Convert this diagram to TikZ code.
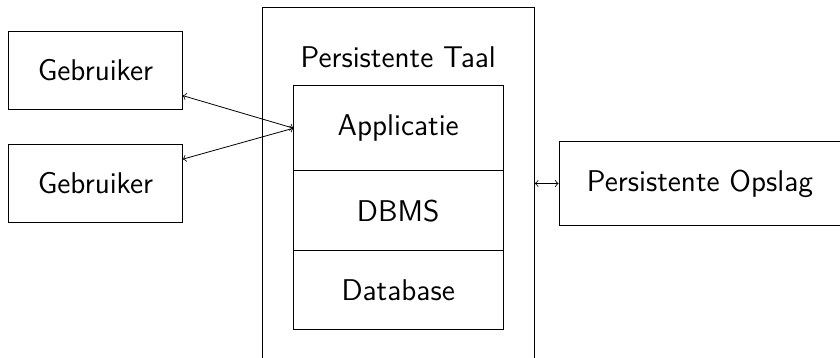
\documentclass[tikz,border=0pt]{standalone}
\usepackage{amsmath,amsfonts,amssymb}
\usepackage{tikz}
\usetikzlibrary{positioning,arrows,shapes}

\begin{document}
\begin{tikzpicture}[
    x=1pt, y=1pt,
    block/.style={rectangle, draw, inner sep=0pt, align=center, font=\sffamily\fontsize{15}{18}\selectfont},
    user/.style={block, minimum width=86.8pt, minimum height=39pt},
    layer/.style={block, outer sep=0pt, minimum width=104.7pt},
    arrow/.style={<->}
]
\useasboundingbox (0,0) rectangle (420,-179);

\node[block, minimum width=136.2pt, minimum height=176pt] (taal) at (199.1,-91.65) {};
\node[font=\sffamily\fontsize{15}{18}\selectfont] (taallabel) at (199.1,-28.5) {Persistente Taal};

\node[user] (g1) at (47.75,-35) {Gebruiker};
\node[user] (g2) at (47.75,-91.75) {Gebruiker};

\node[layer, minimum height=42.5pt] (app) at (199.1,-64.1) {Applicatie};
\node[layer, minimum height=40pt, below=0pt of app] (dbms) {DBMS};
\node[layer, minimum height=39.3pt, below=0pt of dbms] (db) {Database};

\node[block, minimum width=141pt, minimum height=42pt] (opslag) at (350,-91.85) {Persistente Opslag};

\draw[arrow] (g1) -- (app.west);
\draw[arrow] (g2) -- (app.west);
\draw[arrow] (taal) -- (opslag);

\end{tikzpicture}
\end{document}
